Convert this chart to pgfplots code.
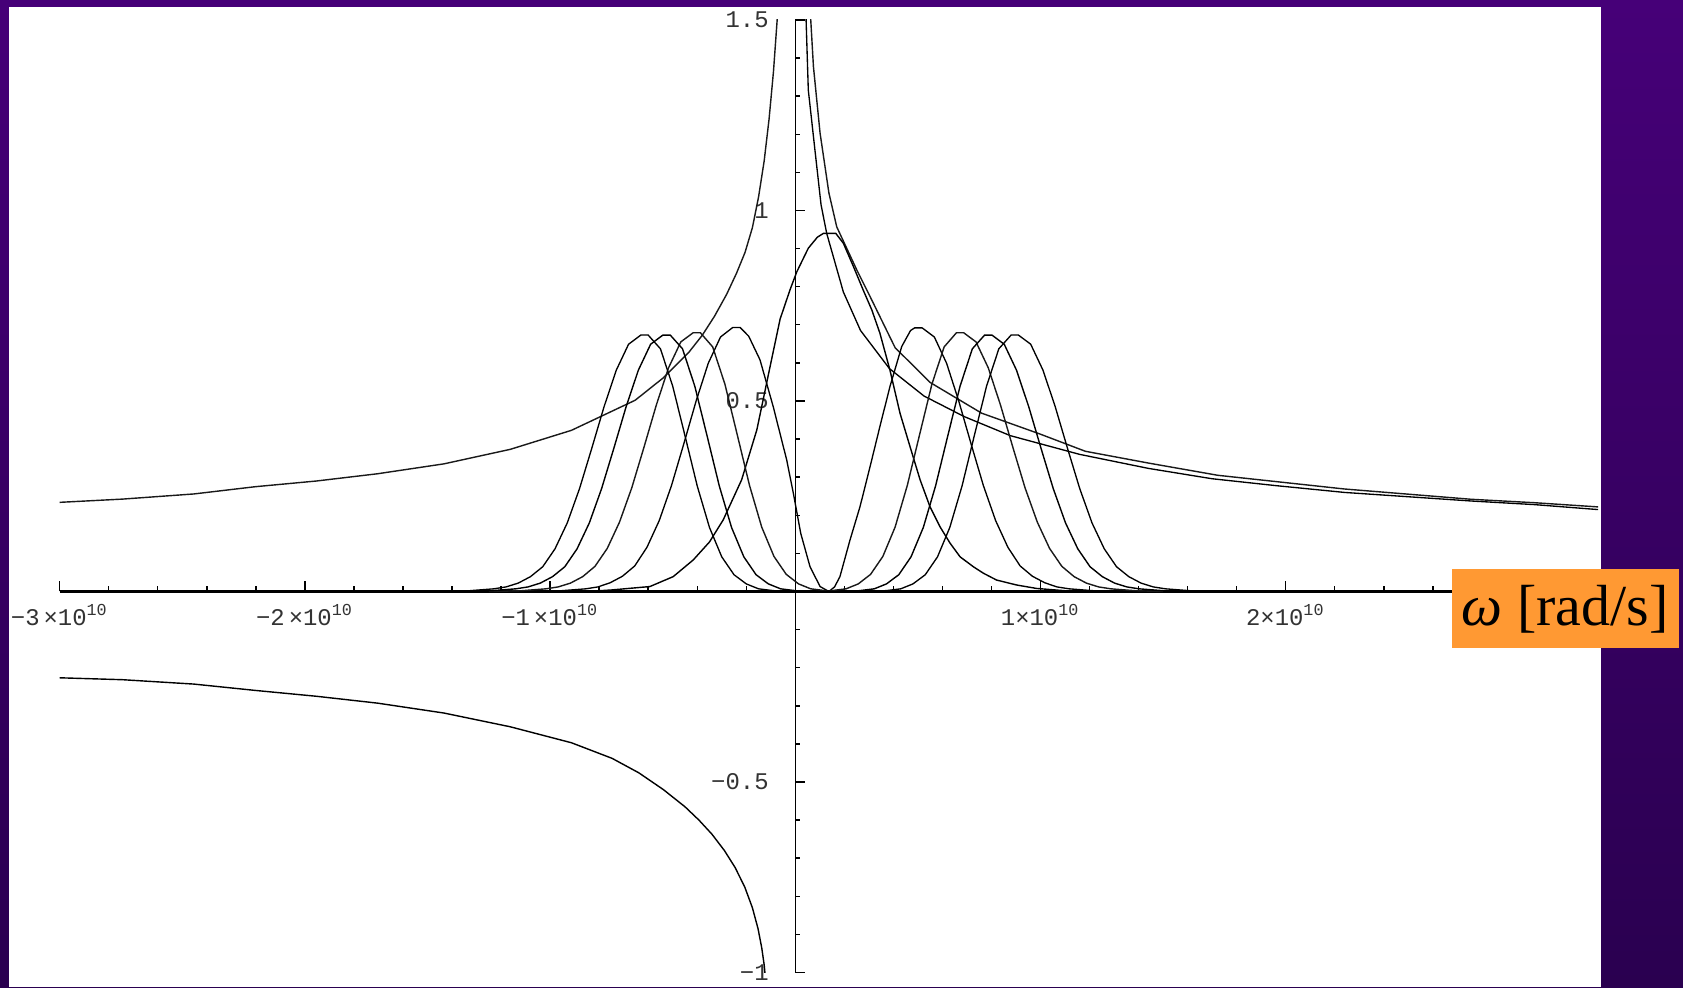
\documentclass[border=0pt]{standalone}
\usepackage{fontspec}
\usepackage{pgfplots}
\pgfplotsset{compat=1.18}
\setmainfont{Liberation Serif}
\newfontfamily\tickfont{Liberation Mono}
\definecolor{orangebox}{RGB}{255,153,51}
\definecolor{bgtop}{RGB}{70,0,120}
\definecolor{bgmid}{RGB}{82,0,150}
\definecolor{bgbot}{RGB}{42,0,80}
\begin{document}
\begin{tikzpicture}[x=1cm,y=1cm]
\shade[top color=bgtop, middle color=bgmid, bottom color=bgbot] (-0.597,-0.145) rectangle (16.233,9.725);
\fill[white] (-0.507,-0.145) rectangle (15.413,9.655);
\begin{axis}[
  at={(0,0)}, anchor=south west,
  scale only axis, width=15.384cm, height=9.525cm,
  xmin=-3, xmax=3.274, ymin=-1, ymax=1.5,
  axis lines=middle,
  axis line style={-},
  x axis line style={line width=0.7pt},
  y axis line style={line width=0.45pt},
  tick align=inside,
  major tick length=0.1cm, minor tick length=0.05cm,
  every tick/.style={black, line width=0.4pt},
  xtick={-3,-2,-1,1,2,3},
  xticklabels={−3\,×10\textsuperscript{10},−2\,×10\textsuperscript{10},−1\,×10\textsuperscript{10},1×10\textsuperscript{10},2×10\textsuperscript{10},},
  minor xtick={-3,-2.8,...,3.2},
  ytick={-1,-0.5,0.5,1,1.5},
  yticklabels={−1,−0.5,0.5,1,1.5},
  minor ytick={-1,-0.9,...,1.5},
  xticklabel style={font=\tickfont\fontsize{6.8}{8}\selectfont, anchor=north, inner sep=0pt, yshift=-0.12cm, text=black!80},
  yticklabel style={font=\tickfont\fontsize{6.8}{8}\selectfont, anchor=east, inner sep=0pt, xshift=-0.26cm, text=black!80},
  cycle list={{black!90, solid, line width=0.38pt}},
  every axis plot/.append style={no markers},
]
% left positive branch
\addplot coordinates {(-3.0,0.234)(-2.744,0.2425)(-2.453,0.256)(-2.203,0.275)(-1.953,0.29)(-1.704,0.309)(-1.433,0.335)(-1.163,0.373)(-0.913,0.423)(-0.653,0.502)(-0.538,0.561)(-0.434,0.628)(-0.38,0.672)(-0.330,0.722)(-0.280,0.78)(-0.240,0.835)(-0.205,0.89)(-0.175,0.955)(-0.150,1.035)(-0.127,1.13)(-0.107,1.24)(-0.089,1.365)(-0.074,1.5)(-0.066,1.6)};
% left negative branch
\addplot coordinates {(-3.0,-0.2265)(-2.744,-0.2315)(-2.453,-0.243)(-2.203,-0.2596)(-1.953,-0.275)(-1.704,-0.293)(-1.433,-0.319)(-1.163,-0.355)(-0.913,-0.397)(-0.747,-0.438)(-0.638,-0.476)(-0.538,-0.52)(-0.45,-0.565)(-0.393,-0.600)(-0.34,-0.637)(-0.289,-0.680)(-0.245,-0.725)(-0.206,-0.776)(-0.175,-0.83)(-0.152,-0.885)(-0.137,-0.935)(-0.127,-0.98)(-0.121,-1.02)};
% right decaying curves
\addplot coordinates {(0.040,1.6)(0.044,1.5)(0.053,1.316)(0.080,1.159)(0.105,1.015)(0.128,0.940)(0.196,0.786)(0.266,0.685)(0.384,0.585)(0.525,0.513)(0.689,0.459)(0.877,0.409)(1.159,0.360)(1.441,0.323)(1.699,0.296)(1.958,0.278)(2.240,0.260)(2.757,0.2375)(3.015,0.228)(3.274,0.215)};
\addplot coordinates {(0.060,1.6)(0.063,1.5)(0.074,1.377)(0.101,1.203)(0.137,1.046)(0.169,0.957)(0.250,0.845)(0.305,0.774)(0.407,0.640)(0.549,0.549)(0.760,0.468)(0.995,0.414)(1.183,0.368)(1.441,0.337)(1.723,0.305)(2.240,0.269)(2.757,0.242)(3.015,0.233)(3.274,0.222)};
% central bump
\addplot coordinates {(-0.85,0)(-0.75,0.004)(-0.593,0.013)(-0.498,0.039)(-0.416,0.083)(-0.35,0.13)(-0.294,0.188)(-0.219,0.293)(-0.157,0.424)(-0.103,0.590)(-0.062,0.715)(-0.022,0.791)(0.006,0.839)(0.053,0.901)(0.09,0.93)(0.115,0.94)(0.165,0.94)(0.196,0.914)(0.237,0.853)(0.277,0.791)(0.312,0.739)(0.345,0.678)(0.386,0.581)(0.427,0.468)(0.468,0.380)(0.509,0.293)(0.549,0.223)(0.590,0.170)(0.631,0.127)(0.672,0.091)(0.726,0.065)(0.767,0.048)(0.821,0.030)(0.903,0.017)(0.984,0.008)(1.1,0.002)(1.2,0)};
% pair 1 (inner lobes, V at 0.137)
\addplot coordinates {(-1.05,0)(-0.955,0.002)(-0.855,0.007)(-0.805,0.012)(-0.755,0.023)(-0.705,0.040)(-0.655,0.067)(-0.605,0.116)(-0.555,0.186)(-0.505,0.278)(-0.455,0.387)(-0.405,0.499)(-0.355,0.599)(-0.305,0.668)(-0.255,0.693)(-0.225,0.693)(-0.19,0.67)(-0.144,0.608)(-0.090,0.485)(-0.035,0.345)(-0.008,0.258)(0.022,0.153)(0.060,0.065)(0.101,0.013)(0.137,0)(0.160,0.012)(0.182,0.039)(0.223,0.135)(0.264,0.223)(0.305,0.328)(0.345,0.433)(0.386,0.538)(0.434,0.643)(0.47,0.685)(0.487,0.692)(0.517,0.692)(0.567,0.668)(0.617,0.599)(0.667,0.499)(0.717,0.387)(0.767,0.278)(0.817,0.186)(0.867,0.116)(0.917,0.067)(0.967,0.040)(1.017,0.023)(1.067,0.012)(1.117,0.007)(1.217,0.002)(1.35,0)};
% pair 2
\addplot coordinates {(-1.25,0)(-1.117,0.002)(-1.017,0.007)(-0.967,0.012)(-0.917,0.022)(-0.867,0.039)(-0.817,0.066)(-0.767,0.113)(-0.717,0.182)(-0.667,0.272)(-0.617,0.379)(-0.567,0.489)(-0.517,0.587)(-0.467,0.655)(-0.417,0.679)(-0.387,0.679)(-0.337,0.642)(-0.287,0.544)(-0.237,0.412)(-0.187,0.279)(-0.137,0.169)(-0.087,0.092)(-0.037,0.045)(0.013,0.020)(0.063,0.007)(0.113,0.003)(0.135,0)(0.157,0.003)(0.207,0.007)(0.257,0.020)(0.307,0.045)(0.357,0.092)(0.407,0.169)(0.457,0.279)(0.507,0.412)(0.557,0.544)(0.607,0.642)(0.657,0.679)(0.687,0.679)(0.737,0.655)(0.787,0.587)(0.837,0.489)(0.887,0.379)(0.937,0.272)(0.987,0.182)(1.037,0.113)(1.087,0.066)(1.137,0.039)(1.187,0.022)(1.237,0.012)(1.287,0.007)(1.387,0.002)(1.5,0)};
% pair 3
\addplot coordinates {(-1.36,0)(-1.24,0.002)(-1.14,0.007)(-1.09,0.012)(-1.04,0.022)(-0.99,0.039)(-0.94,0.065)(-0.89,0.112)(-0.84,0.180)(-0.79,0.270)(-0.74,0.376)(-0.69,0.485)(-0.64,0.581)(-0.59,0.649)(-0.54,0.673)(-0.51,0.673)(-0.46,0.637)(-0.41,0.539)(-0.36,0.409)(-0.31,0.277)(-0.26,0.168)(-0.21,0.091)(-0.16,0.044)(-0.11,0.020)(-0.06,0.007)(-0.01,0.003)(0.03,0)(0.23,0)(0.272,0.003)(0.322,0.007)(0.372,0.020)(0.422,0.044)(0.472,0.091)(0.522,0.168)(0.572,0.277)(0.622,0.409)(0.672,0.539)(0.722,0.637)(0.772,0.673)(0.802,0.673)(0.852,0.649)(0.902,0.581)(0.952,0.485)(1.002,0.376)(1.052,0.270)(1.102,0.180)(1.152,0.112)(1.202,0.065)(1.252,0.039)(1.302,0.022)(1.352,0.012)(1.402,0.007)(1.502,0.002)(1.62,0)};
% pair 4
\addplot coordinates {(-1.45,0)(-1.33,0.002)(-1.23,0.007)(-1.18,0.012)(-1.13,0.022)(-1.08,0.039)(-1.03,0.065)(-0.98,0.112)(-0.93,0.180)(-0.88,0.270)(-0.83,0.376)(-0.78,0.485)(-0.73,0.581)(-0.68,0.649)(-0.63,0.673)(-0.60,0.673)(-0.55,0.637)(-0.50,0.539)(-0.45,0.409)(-0.40,0.277)(-0.35,0.168)(-0.30,0.091)(-0.25,0.044)(-0.20,0.020)(-0.15,0.007)(-0.10,0.003)(-0.05,0)(0.33,0)(0.38,0.003)(0.43,0.007)(0.48,0.020)(0.53,0.044)(0.58,0.091)(0.63,0.168)(0.68,0.277)(0.73,0.409)(0.78,0.539)(0.83,0.637)(0.88,0.673)(0.91,0.673)(0.96,0.649)(1.01,0.581)(1.06,0.485)(1.11,0.376)(1.16,0.270)(1.21,0.180)(1.26,0.112)(1.31,0.065)(1.36,0.039)(1.41,0.022)(1.46,0.012)(1.51,0.007)(1.61,0.002)(1.75,0)};
\end{axis}
\node[fill=orangebox, inner sep=0pt, minimum width=2.27cm, minimum height=0.79cm, anchor=south west] at (13.913,3.235) {\fontsize{16.5}{18}\selectfont\textit{ω} [rad/s]};
\end{tikzpicture}
\end{document}
